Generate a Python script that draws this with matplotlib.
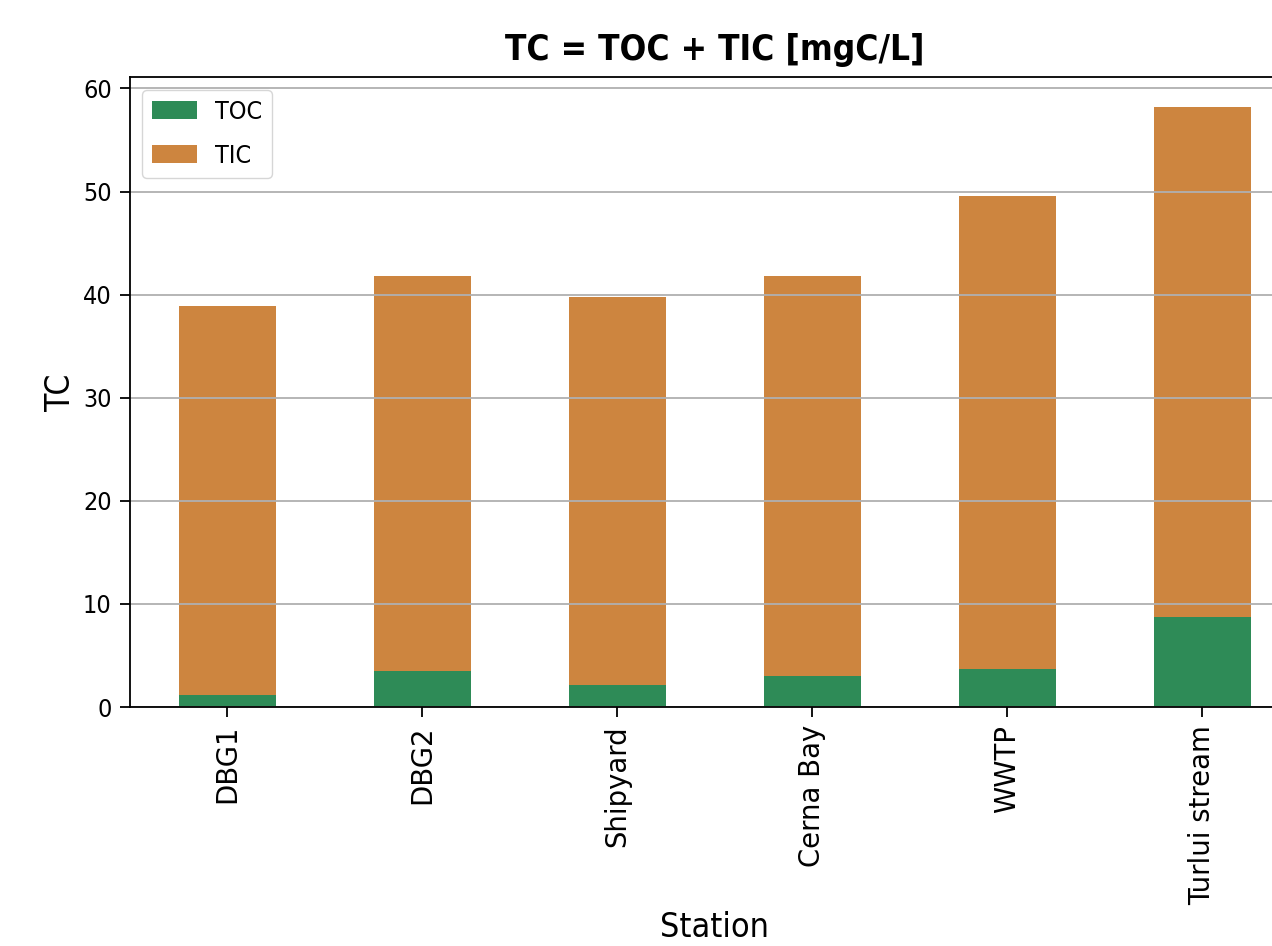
import numpy as np
import matplotlib
matplotlib.use("Agg")
import matplotlib.pyplot as plt

stations = ['DBG1', 'DBG2', 'Shipyard', 'Cerna Bay', 'WWTP', 'Turlui stream']
toc = [1.2, 3.5, 2.1, 3.0, 3.7, 8.7]
tic = [37.7, 38.3, 37.7, 38.8, 45.9, 49.5]

cond = {'family': 'DejaVu Sans', 'stretch': 'condensed'}

fig = plt.figure(figsize=(12.72, 9.46), dpi=100)
ax = fig.add_axes([0.102, 0.2526, 0.92, 0.666])

x = np.arange(len(stations))
ax.bar(x, toc, 0.5, color='seagreen', label='TOC')
ax.bar(x, tic, 0.5, bottom=toc, color='peru', label='TIC')

ax.set_xlim(-0.5, 5.5)
ax.set_ylim(0, (np.array(toc) + np.array(tic)).max() * 1.05)
ax.set_xticks(x)
ax.set_xticklabels(stations, rotation=90, fontsize=19.8)
ax.set_yticks([0, 10, 20, 30, 40, 50, 60])
ax.set_yticklabels(['0', '10', '20', '30', '40', '50', '60'], fontsize=18, **cond)
ax.tick_params(length=7, width=1.3, pad=6)
ax.grid(axis='y', linewidth=1.3)
for s in ax.spines.values():
    s.set_linewidth(1.3)

ax.set_title('TC = TOC + TIC [mgC/L]', fontsize=25.2, fontweight='bold', pad=12, **cond)
ax.set_xlabel('Station', fontsize=24.5, labelpad=4, **cond)
ax.set_ylabel('TC', fontsize=24, **cond)
ax.legend(loc='upper left', prop={'size': 18, **cond}, labelspacing=0.8,
          handlelength=1.8, handletextpad=0.7)

plt.savefig('out.png', dpi=100)
